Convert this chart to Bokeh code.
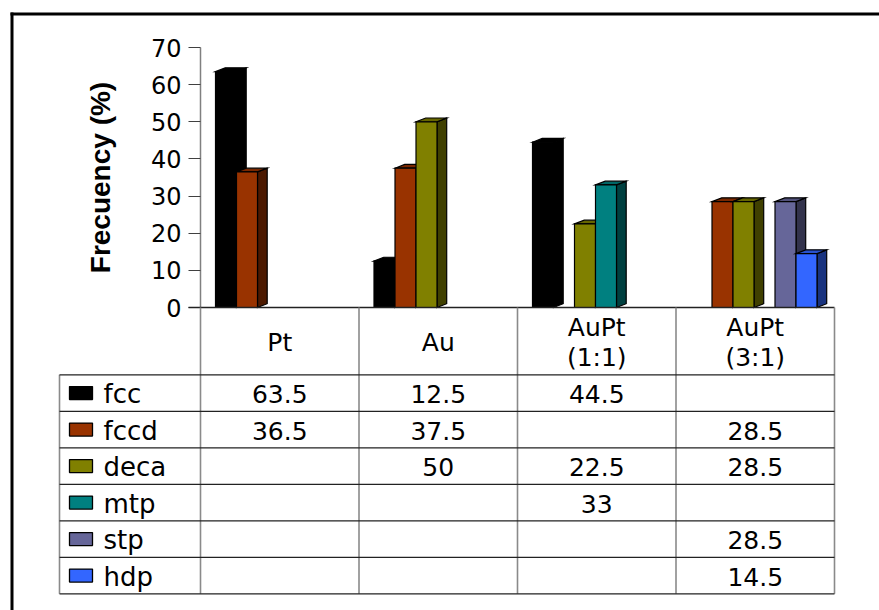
from bokeh.plotting import figure
from bokeh.models import (Range1d, Label, Arrow, BoxAnnotation, FixedTicker,
                          ColumnDataSource, LinearAxis)
from bokeh.embed import file_html
from bokeh.resources import INLINE

# ---- data -------------------------------------------------------------
categories = ["Pt", "Au", "AuPt\n(1:1)", "AuPt\n(3:1)"]
series_names = ["fcc", "fccd", "deca", "mtp", "stp", "hdp"]
fcc = [63.5, 12.5, 44.5, None]
fccd = [36.5, 37.5, None, 28.5]
deca = [None, 50, 22.5, 28.5]
mtp = [None, None, 33, None]
stp = [None, None, None, 28.5]
hdp = [None, None, None, 14.5]
series_values = [fcc, fccd, deca, mtp, stp, hdp]
series_colors = ["#000000", "#993300", "#808000", "#008080", "#666699", "#3366FF"]
y_ticks = [0, 10, 20, 30, 40, 50, 60, 70]

# ---- layout (pixels) ---------------------------------------------------
W, H = 879, 610
PLOT_L, PLOT_R, PLOT_T, PLOT_B = 200, 834, 47, 307
Y_MAX = 70
N_CAT = len(categories)
PX_X = (PLOT_R - PLOT_L) / N_CAT
PX_Y = (PLOT_B - PLOT_T) / Y_MAX


def to_x(px):
    return (px - PLOT_L) / PX_X


def to_y(py):
    return (PLOT_B - py) / PX_Y


SLOT = 21.0 / PX_X
START = 15.0 / PX_X
DEPTH_X = 9.7 / PX_X
DEPTH_Y = 3.8 / PX_Y

TABLE_LEFT = 59
HEADER_BOTTOM = 374.3
ROW_H = 36.5
FONT = "DejaVu Sans"
GRID_V = "#8a8a8a"
GRID_H = "#222222"


def shade(hex_color, k):
    h = hex_color.lstrip("#")
    r, g, b = (int(h[i:i + 2], 16) for i in (0, 2, 4))
    return "#%02x%02x%02x" % (int(r * k), int(g * k), int(b * k))


# the frame spans the whole canvas; the value axis sits at x = 0
p = figure(width=W, height=H, title=None,
           x_range=Range1d(to_x(0), to_x(W)), y_range=Range1d(to_y(H), to_y(0)),
           x_axis_location=None, y_axis_location=None,
           output_backend="svg", toolbar_location=None, min_border=0)
p.outline_line_color = None
p.background_fill_color = "white"
p.border_fill_color = "white"
p.grid.visible = False

ax = LinearAxis(fixed_location=0, bounds=(0, Y_MAX))
ax.ticker = FixedTicker(ticks=y_ticks)
ax.minor_tick_line_color = None
ax.major_tick_in = 0
ax.major_tick_out = 12
ax.major_tick_line_color = "#404040"
ax.axis_line_color = "#808080"
ax.axis_line_width = 1.5
ax.major_label_standoff = 7
ax.major_label_text_font = FONT
ax.major_label_text_font_size = "24px"
ax.major_label_text_color = "black"
ax.axis_label = "Frecuency (%)"
ax.axis_label_text_font = "Liberation Sans"
ax.axis_label_text_font_style = "bold"
ax.axis_label_text_font_size = "28px"
ax.axis_label_text_color = "black"
ax.axis_label_standoff = 32
p.add_layout(ax, "left")

# ---- 3D bars: side, top and front faces of each bar ----------------------
xs, ys, fills = [], [], []
for ci in range(N_CAT):
    for si, (vals, col) in enumerate(zip(series_values, series_colors)):
        v = vals[ci]
        if v is None:
            continue
        l = ci + START + si * SLOT
        r = l + SLOT
        xs.append([r, r + DEPTH_X, r + DEPTH_X, r])
        ys.append([0, DEPTH_Y, v + DEPTH_Y, v])
        fills.append(shade(col, 0.5))
        xs.append([l, l + DEPTH_X, r + DEPTH_X, r])
        ys.append([v, v + DEPTH_Y, v + DEPTH_Y, v])
        fills.append(shade(col, 0.8))
        xs.append([l, r, r, l])
        ys.append([0, 0, v, v])
        fills.append(col)

src = ColumnDataSource(dict(xs=xs, ys=ys, fill=fills))
p.patches("xs", "ys", source=src, fill_color="fill", line_color="black",
          line_width=1.2, line_join="miter")


def seg(x0, y0, x1, y1, color, width):
    p.add_layout(Arrow(end=None, x_start=x0, y_start=y0, x_end=x1, y_end=y1,
                       line_color=color, line_width=width))


# baseline of the bars
seg(to_x(PLOT_L - 12), 0, N_CAT, 0, GRID_H, 1.3)

# ---- data table -------------------------------------------------------
n_rows = len(series_names)
table_bottom = HEADER_BOTTOM + ROW_H * n_rows
for i in range(N_CAT + 1):
    seg(i, 0, i, to_y(table_bottom), GRID_V, 1.6)
seg(to_x(TABLE_LEFT), to_y(HEADER_BOTTOM), to_x(TABLE_LEFT), to_y(table_bottom), GRID_V, 1.6)
for k in range(n_rows + 1):
    yy = to_y(HEADER_BOTTOM + ROW_H * k)
    seg(to_x(TABLE_LEFT), yy, N_CAT, yy, GRID_H, 1.2)

header_mid = (PLOT_B + HEADER_BOTTOM) / 2
for ci, cat in enumerate(categories):
    lines = cat.split("\n")
    for li, line in enumerate(lines):
        off = (li - (len(lines) - 1) / 2) * 30
        p.add_layout(Label(x=ci + 0.5, y=to_y(header_mid + off + 1), text=line,
                           text_align="center", text_baseline="middle",
                           text_font=FONT, text_font_size="25px", text_color="black"))

for k, (name, vals, col) in enumerate(zip(series_names, series_values, series_colors)):
    cy = HEADER_BOTTOM + ROW_H * (k + 0.5)
    p.add_layout(BoxAnnotation(left=to_x(69), right=to_x(92),
                               top=to_y(cy - 6.5), bottom=to_y(cy + 6.5),
                               fill_color=col, fill_alpha=1.0,
                               line_color="black", line_width=1.3, line_alpha=1.0))
    p.add_layout(Label(x=to_x(103), y=to_y(cy + 1), text=name,
                       text_align="left", text_baseline="middle",
                       text_font=FONT, text_font_size="26px", text_color="black"))
    for ci, v in enumerate(vals):
        if v is None:
            continue
        p.add_layout(Label(x=ci + 0.5, y=to_y(cy + 1), text=f"{v:g}",
                           text_align="center", text_baseline="middle",
                           text_font=FONT, text_font_size="25px", text_color="black"))

# ---- outer frame --------------------------------------------------------
seg(to_x(10), to_y(13.5), to_x(W + 20), to_y(13.5), "black", 3)
seg(to_x(11.5), to_y(12), to_x(11.5), to_y(H + 20), "black", 3)

open("out.html", "w").write(file_html(p, INLINE))
